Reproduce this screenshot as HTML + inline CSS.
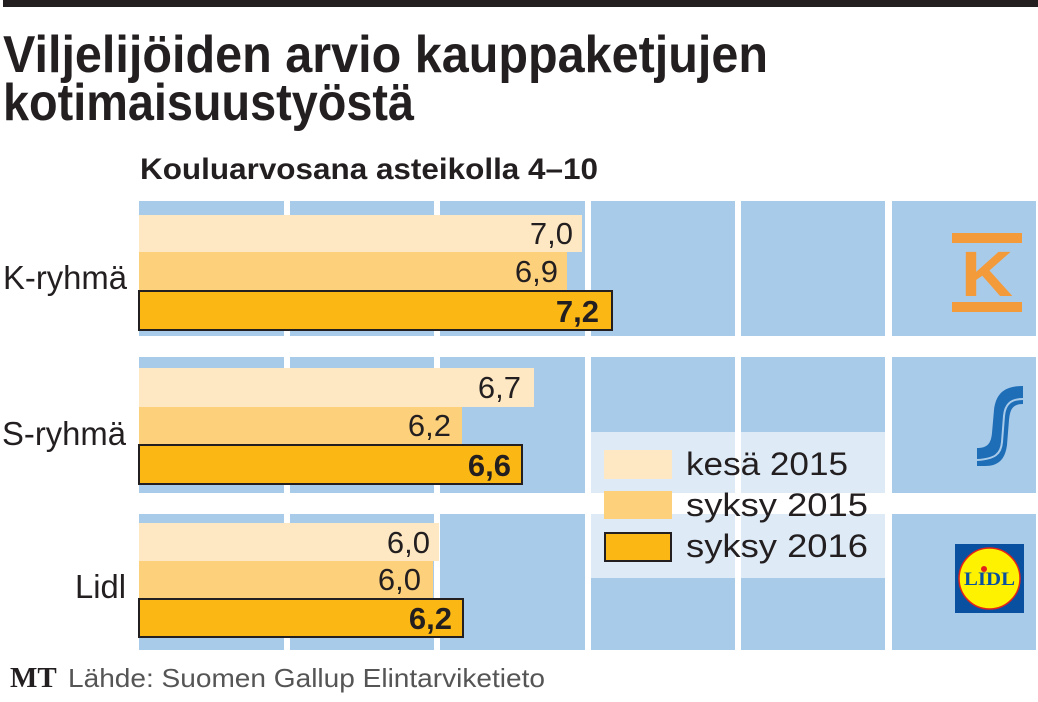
<!DOCTYPE html>
<html>
<head>
<meta charset="utf-8">
<style>
html,body{margin:0;padding:0;background:#fff;}
svg{display:block;}
text{font-family:"Liberation Sans",sans-serif;fill:#231f20;}
</style>
</head>
<body>
<svg width="1038" height="702" viewBox="0 0 1038 702" xmlns="http://www.w3.org/2000/svg">
  <rect x="0" y="0" width="1038" height="702" fill="#ffffff"/>
  <!-- top bar -->
  <rect x="3" y="0" width="1035" height="7" fill="#231f20"/>

  <!-- title -->
  <text x="3" y="72" font-size="52" font-weight="bold" textLength="765" lengthAdjust="spacingAndGlyphs">Viljelijöiden arvio kauppaketjujen</text>
  <text x="3" y="120" font-size="52" font-weight="bold" textLength="411" lengthAdjust="spacingAndGlyphs">kotimaisuustyöstä</text>
  <text x="140" y="179" font-size="30" font-weight="bold" textLength="458" lengthAdjust="spacingAndGlyphs">Kouluarvosana asteikolla 4–10</text>

  <!-- grid panels -->
  <g fill="#a9cbea">
    <rect x="139" y="201" width="145" height="135"/>
    <rect x="290" y="201" width="144" height="135"/>
    <rect x="440" y="201" width="145" height="135"/>
    <rect x="591" y="201" width="144" height="135"/>
    <rect x="741" y="201" width="144" height="135"/>
    <rect x="892" y="201" width="144" height="135"/>

    <rect x="139" y="357" width="145" height="136"/>
    <rect x="290" y="357" width="144" height="136"/>
    <rect x="440" y="357" width="145" height="136"/>
    <rect x="591" y="357" width="144" height="136"/>
    <rect x="741" y="357" width="144" height="136"/>
    <rect x="892" y="357" width="144" height="136"/>

    <rect x="139" y="514" width="145" height="136"/>
    <rect x="290" y="514" width="144" height="136"/>
    <rect x="440" y="514" width="145" height="136"/>
    <rect x="591" y="514" width="144" height="136"/>
    <rect x="741" y="514" width="144" height="136"/>
    <rect x="892" y="514" width="144" height="136"/>
  </g>

  <!-- K-ryhmä bars -->
  <rect x="139" y="215" width="443" height="37" fill="#fee8c3"/>
  <rect x="139" y="252" width="428" height="38" fill="#fdd07c"/>
  <rect x="139" y="291" width="473" height="39" fill="#fbb714" stroke="#231f20" stroke-width="2"/>
  <text x="573" y="244" font-size="31" text-anchor="end">7,0</text>
  <text x="558" y="282" font-size="31" text-anchor="end">6,9</text>
  <text x="599" y="322" font-size="31" font-weight="bold" text-anchor="end">7,2</text>

  <!-- S-ryhmä bars -->
  <rect x="139" y="368" width="395" height="39" fill="#fee8c3"/>
  <rect x="139" y="407" width="323" height="37" fill="#fdd07c"/>
  <rect x="139" y="445" width="383" height="39" fill="#fbb714" stroke="#231f20" stroke-width="2"/>
  <text x="521" y="398" font-size="31" text-anchor="end">6,7</text>
  <text x="451" y="436" font-size="31" text-anchor="end">6,2</text>
  <text x="511" y="476" font-size="31" font-weight="bold" text-anchor="end">6,6</text>

  <!-- Lidl bars -->
  <rect x="139" y="523" width="300" height="38" fill="#fee8c3"/>
  <rect x="139" y="561" width="294" height="37" fill="#fdd07c"/>
  <rect x="139" y="599" width="324" height="38" fill="#fbb714" stroke="#231f20" stroke-width="2"/>
  <text x="430" y="553" font-size="31" text-anchor="end">6,0</text>
  <text x="421" y="590" font-size="31" text-anchor="end">6,0</text>
  <text x="452" y="629" font-size="31" font-weight="bold" text-anchor="end">6,2</text>

  <!-- row labels -->
  <text x="3" y="289" font-size="33" textLength="124" lengthAdjust="spacingAndGlyphs">K-ryhmä</text>
  <text x="2" y="445" font-size="33" textLength="124" lengthAdjust="spacingAndGlyphs">S-ryhmä</text>
  <text x="75" y="598" font-size="33" textLength="51" lengthAdjust="spacingAndGlyphs">Lidl</text>

  <!-- legend -->
  <rect x="591" y="432" width="294" height="146" fill="#ffffff" fill-opacity="0.62"/>
  <rect x="604" y="450" width="68" height="29" fill="#fee8c3"/>
  <rect x="604" y="491" width="68" height="28" fill="#fdd07c"/>
  <rect x="605" y="533" width="66" height="28" fill="#fbb714" stroke="#231f20" stroke-width="2"/>
  <text x="686" y="475" font-size="32" textLength="162" lengthAdjust="spacingAndGlyphs">kesä 2015</text>
  <text x="686" y="516" font-size="32" textLength="182" lengthAdjust="spacingAndGlyphs">syksy 2015</text>
  <text x="686" y="557" font-size="32" textLength="182" lengthAdjust="spacingAndGlyphs">syksy 2016</text>

  <!-- K logo -->
  <rect x="952" y="233" width="70" height="10" fill="#f39a3b"/>
  <rect x="952" y="302" width="70" height="10" fill="#f39a3b"/>
  <text x="961" y="296" font-size="64" font-weight="bold" textLength="52" lengthAdjust="spacingAndGlyphs" style="fill:#f39a3b">K</text>

  <!-- S logo -->
  <path d="M1023 386 L1023 404 C1012 404 1010 410 1009 420 L1007 445 C1005 460 998 466 985 466 L977 466 L977 448 C988 448 991 443 992 433 L994 410 C996 393 1005 386 1023 386 Z" fill="#1e6db7"/>
  <path d="M1023 399 C1011 399 1005 404 1004 416 L1002 442 C1001 454 995 459 977 460" fill="none" stroke="#a9cbea" stroke-width="2"/>

  <!-- Lidl logo -->
  <rect x="955" y="544" width="69" height="69" fill="#0a50a1"/>
  <circle cx="989.5" cy="578.5" r="30.5" fill="#fff200" stroke="#e2231a" stroke-width="1.5"/>
  <text x="964" y="585" font-size="19" font-weight="bold" textLength="51" lengthAdjust="spacingAndGlyphs" style="fill:#0a50a1;font-family:'Liberation Serif',serif">LIDL</text>
  <circle cx="984" cy="569" r="3" fill="#e2231a"/>

  <!-- footer -->
  <text x="10" y="687" font-size="29" font-weight="bold" style="font-family:'Liberation Serif',serif">MT</text>
  <text x="68" y="687" font-size="26" textLength="477" lengthAdjust="spacingAndGlyphs" style="fill:#555555">Lähde: Suomen Gallup Elintarviketieto</text>
</svg>
</body>
</html>
